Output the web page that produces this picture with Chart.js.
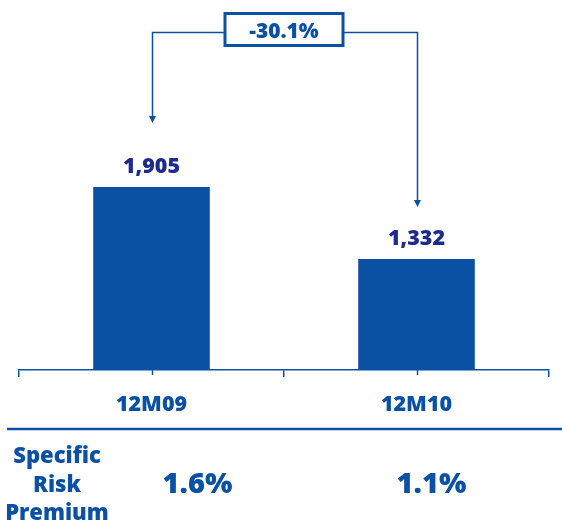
<!DOCTYPE html>
<html>
<head>
<meta charset="utf-8">
<script src="https://cdn.jsdelivr.net/npm/chart.js@4"></script>
<style>
  html, body { margin: 0; padding: 0; background: #ffffff; }
  #wrap { width: 562px; height: 529px; }
</style>
</head>
<body>
<div id="wrap"><canvas id="c" width="562" height="529"></canvas></div>
<script>
// Impairment losses by period
const periods = ['12M09', '12M10'];
const losses = [1905, 1332];
const riskPremium = ['1.6%', '1.1%'];
const riskPremiumTitle = ['Specific', 'Risk', 'Premium'];

const BLUE = '#0a50a3';
const NAVY = '#1f2a8e';
const FONT = '"Open Sans", "DejaVu Sans", sans-serif';
const W = '800';

const fmt = v => v.toLocaleString('en-US');
const change = (losses[1] / losses[0] - 1) * 100;
const changeLabel = (change > 0 ? '+' : '') + change.toFixed(1) + '%';

const decorations = {
  id: 'decorations',
  afterDatasetsDraw(chart) {
    const ctx = chart.ctx;
    const x = chart.scales.x;
    const area = chart.chartArea;
    const bars = chart.getDatasetMeta(0).data;

    ctx.save();
    ctx.strokeStyle = BLUE;
    ctx.fillStyle = BLUE;

    // short ticks under each category centre
    ctx.lineWidth = 1.5;
    periods.forEach((p, i) => {
      const px = Math.round(x.getPixelForValue(i)) + 0.5;
      ctx.beginPath();
      ctx.moveTo(px, area.bottom);
      ctx.lineTo(px, area.bottom + 5);
      ctx.stroke();
    });

    // value labels above bars
    ctx.fillStyle = NAVY;
    ctx.font = W + ' 21.5px ' + FONT;
    ctx.textAlign = 'center';
    ctx.textBaseline = 'alphabetic';
    bars.forEach((b, i) => {
      ctx.fillText(fmt(losses[i]), b.x, b.y - 14);
    });

    // bracket linking the two periods
    const topY = 32.5;
    const tipOffsets = [64, 52];
    ctx.strokeStyle = BLUE;
    ctx.fillStyle = BLUE;
    ctx.lineWidth = 1.5;
    const xs = bars.map(b => Math.round(b.x) + 0.5);
    const tips = bars.map((b, i) => b.y - tipOffsets[i]);
    ctx.beginPath();
    ctx.moveTo(xs[0], tips[0] - 6);
    ctx.lineTo(xs[0], topY);
    ctx.lineTo(xs[1], topY);
    ctx.lineTo(xs[1], tips[1] - 6);
    ctx.stroke();
    xs.forEach((ax, i) => {
      ctx.beginPath();
      ctx.moveTo(ax - 3.5, tips[i] - 7);
      ctx.lineTo(ax + 3.5, tips[i] - 7);
      ctx.lineTo(ax, tips[i]);
      ctx.closePath();
      ctx.fill();
    });

    // change box
    const cx = (bars[0].x + bars[1].x) / 2;
    const bw = 118, bh = 32;
    ctx.fillStyle = '#ffffff';
    ctx.fillRect(cx - bw / 2, 13.5, bw, bh);
    ctx.lineWidth = 3;
    ctx.strokeRect(cx - bw / 2, 13.5, bw, bh);
    ctx.fillStyle = BLUE;
    ctx.font = W + ' 21px ' + FONT;
    ctx.fillText(changeLabel, cx, 38);

    // separator line above the risk premium row
    ctx.lineWidth = 2.5;
    ctx.beginPath();
    ctx.moveTo(7, 429);
    ctx.lineTo(chart.width, 429);
    ctx.stroke();

    // risk premium row
    ctx.font = W + ' 22px ' + FONT;
    riskPremiumTitle.forEach((t, i) => {
      ctx.fillText(t, 57, 463 + i * 28.5);
    });
    const rpShift = [46, 15];
    ctx.font = W + ' 29px ' + FONT;
    riskPremium.forEach((t, i) => {
      ctx.fillText(t, x.getPixelForValue(i) + rpShift[i], 493);
    });
    ctx.restore();
  }
};

new Chart(document.getElementById('c'), {
  type: 'bar',
  data: {
    labels: periods,
    datasets: [{
      data: losses,
      backgroundColor: BLUE,
      borderWidth: 0,
      barPercentage: 0.44,
      categoryPercentage: 1
    }]
  },
  options: {
    responsive: false,
    devicePixelRatio: 1,
    animation: false,
    events: [],
    layout: { padding: { left: 19, right: 13, top: 0, bottom: 0 } },
    plugins: { legend: { display: false }, tooltip: { enabled: false } },
    scales: {
      y: { display: false, min: 450, max: 3390 },
      x: {
        offset: true,
        border: { display: true, color: BLUE, width: 1.5 },
        grid: { display: true, drawOnChartArea: false, offset: true, tickLength: 7, color: BLUE, lineWidth: 1.5 },
        ticks: { color: BLUE, padding: 15, font: { family: FONT, size: 21.5, weight: W } },
        afterFit: s => { s.height = 159; }
      }
    }
  },
  plugins: [decorations]
});
</script>
</body>
</html>
